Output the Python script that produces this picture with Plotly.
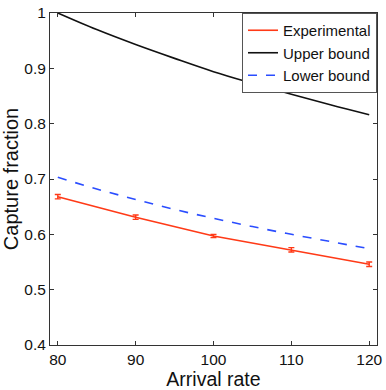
import plotly.graph_objects as go

# data
rate = [80, 90, 100, 110, 120]
experimental = [0.668, 0.631, 0.597, 0.572, 0.546]
exp_err = [0.004, 0.004, 0.003, 0.004, 0.004]

rate_fine = [80, 85, 90, 95, 100, 105, 110, 115, 120]
upper = [1.0, 0.970, 0.943, 0.918, 0.894, 0.873, 0.853, 0.834, 0.816]
lower = [0.703, 0.682, 0.663, 0.645, 0.629, 0.614, 0.600, 0.587, 0.574]

x_ticks = [80, 90, 100, 110, 120]
y_ticks = [0.4, 0.5, 0.6, 0.7, 0.8, 0.9, 1.0]
y_labels = ["0.4", "0.5", "0.6", "0.7", "0.8", "0.9", "1"]

fig = go.Figure()

fig.add_trace(go.Scatter(
    x=rate, y=experimental, mode="lines", name="Experimental",
    line=dict(color="#ff3a17", width=1.6),
    error_y=dict(type="data", array=exp_err, color="#ff3a17", thickness=1.4, width=3),
))
fig.add_trace(go.Scatter(
    x=rate_fine, y=upper, mode="lines", name="Upper bound",
    line=dict(color="#111111", width=1.6, shape="spline"),
))
fig.add_trace(go.Scatter(
    x=rate_fine, y=lower, mode="lines", name="Lower bound",
    line=dict(color="#2a4dff", width=1.6, dash="dash", shape="spline"),
))

axis_style = dict(
    showgrid=False, zeroline=False, showline=True, linecolor="#333333", linewidth=1,
    mirror="ticks", ticks="inside", ticklen=4, tickcolor="#333333",
    tickfont=dict(size=15.5, color="#111111"),
)

fig.update_layout(
    width=386, height=390,
    margin=dict(l=50, r=4, t=9, b=38),
    paper_bgcolor="white", plot_bgcolor="white",
    font=dict(family="Liberation Sans, Arial, sans-serif", color="#111111"),
    legend=dict(
        x=1, y=1, xanchor="right", yanchor="top",
        bgcolor="white", bordercolor="#555555", borderwidth=1,
        font=dict(size=15), tracegroupgap=0, itemwidth=30,
    ),
    xaxis=dict(
        range=[79, 121], tickvals=x_ticks, ticklabeloverflow="allow",
        title=dict(text="Arrival rate", font=dict(size=19.5), standoff=5),
        **axis_style,
    ),
    yaxis=dict(
        range=[0.4, 1.0], tickvals=y_ticks, ticktext=y_labels,
        title=dict(text="Capture fraction", font=dict(size=20), standoff=1),
        **axis_style,
    ),
)

# the page body has a default margin that would shift the figure
fig.write_html(
    "out.html",
    config={"displayModeBar": False},
    post_script="document.body.style.margin='0';",
)
